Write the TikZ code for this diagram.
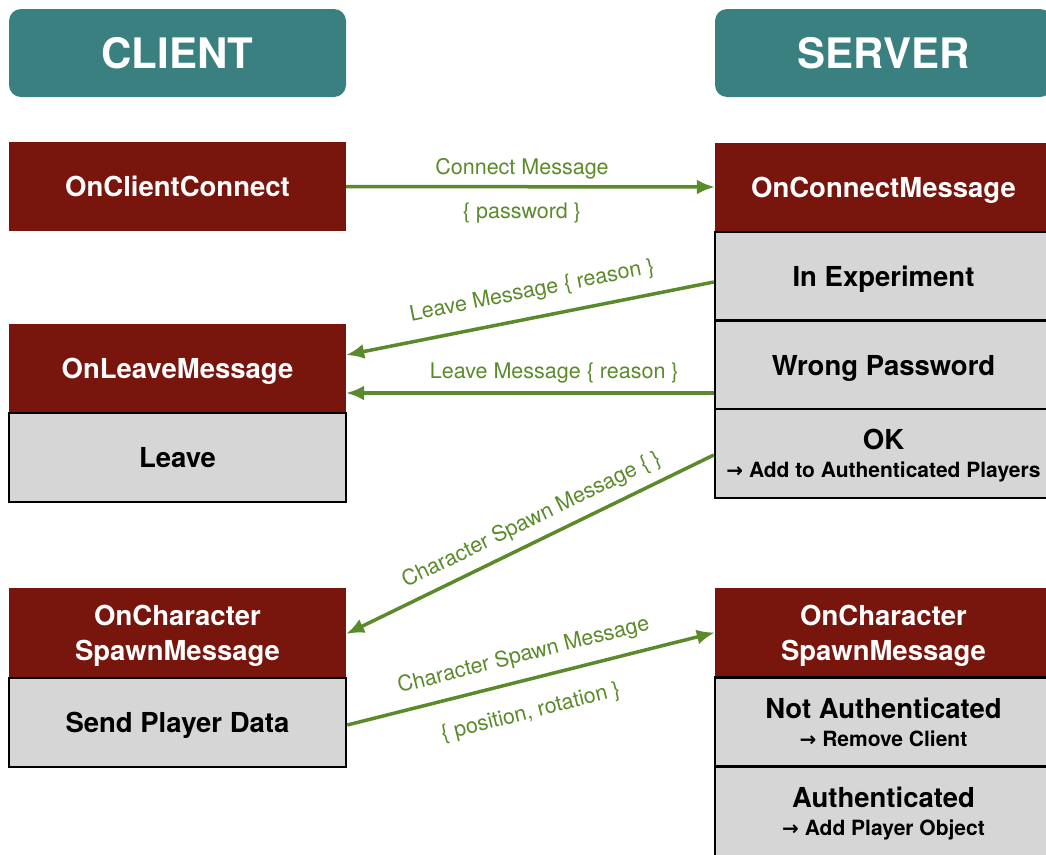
\documentclass[tikz,border=0pt]{standalone}
\usepackage{fontspec}
\setmainfont{TeX Gyre Heros}
\newfontfamily\arrowfont{DejaVu Sans}
\usetikzlibrary{arrows.meta,calc}
\definecolor{hdrteal}{HTML}{3A8080}
\definecolor{evtred}{HTML}{78160E}
\definecolor{casegray}{HTML}{D6D6D6}
\definecolor{msggreen}{HTML}{5A8A2A}
\newcommand{\thenarrow}{{\arrowfont\fontsize{20}{20}\selectfont →}}
\newcommand{\casenote}{\bfseries\fontsize{21}{28}\selectfont}
\begin{document}
\begin{tikzpicture}[x=1pt,y=-1pt,
  hdr/.style={fill=hdrteal, rounded corners=12pt, minimum width=337pt, minimum height=88pt,
    inner sep=0pt, text=white, font=\bfseries\fontsize{42}{46}\selectfont},
  evt/.style={fill=evtred, minimum width=337pt, minimum height=89pt, inner sep=0pt,
    text depth=0pt, text=white, align=center, font=\bfseries\fontsize{27.5}{35}\selectfont},
  cas/.style={fill=casegray, draw=black, line width=2.5pt, minimum width=337pt, minimum height=89pt,
    inner sep=0pt, text depth=0pt, align=center, font=\bfseries\fontsize{27.5}{28}\selectfont},
  msg/.style={draw=msggreen, line width=3.5pt, -{Latex[length=18pt,width=15pt]}},
  lbl/.style={text=msggreen, inner sep=3pt, font=\fontsize{21.5}{24}\selectfont}
]
\useasboundingbox (0,0) rectangle (1046,854);
\clip (0,0) rectangle (1046,854);

% column headers
\node[hdr] (client) at (177.5,53) {CLIENT};
\node[hdr] (server) at (883.5,53) {SERVER};

% message handlers
\node[evt] (occ)   at (177.5,186.5) {OnClientConnect};
\node[evt] (ocm)   at (883.5,187)   {OnConnectMessage};
\node[evt] (olm)   at (177.5,368.5) {OnLeaveMessage};
\node[evt] (ocsmc) at (177.5,632.5) {OnCharacter\\SpawnMessage};
\node[evt] (ocsms) at (883.5,632.5) {OnCharacter\\SpawnMessage};

% handler cases
\node[cas] (inexp)   at (883.5,276.5) {In Experiment};
\node[cas] (wrongpw) at (883.5,365)   {Wrong Password};
\node[cas] (okc)     at (883.5,453.5) {OK\\{\casenote \thenarrow\ Add to Authenticated Players}};
\node[cas] (leave)   at (177.5,457.5) {Leave};
\node[cas] (spd)     at (177.5,722.5) {Send Player Data};
\node[cas] (notauth) at (883.5,722)   {Not Authenticated\\{\casenote \thenarrow\ Remove Client}};
\node[cas] (auth)    at (883.5,811.5) {Authenticated\\{\casenote \thenarrow\ Add Player Object}};

% messages
\draw[msg] (occ.east) -- (ocm.west)
  node[lbl, pos=0.477, above=3pt] {Connect Message}
  node[lbl, pos=0.477, below=11pt] {\{ password \}};
\draw[msg] ([yshift=-5.5pt]inexp.west) -- ([yshift=13.5pt]olm.east)
  node[lbl, pos=0.48, sloped, above=11pt] {Leave Message \{ reason \}};
\draw[msg] ([yshift=-28pt]wrongpw.west) -- ([yshift=-24.5pt]olm.east)
  node[lbl, pos=0.434, above=5pt] {Leave Message \{ reason \}};
\draw[msg] ([yshift=-1.5pt]okc.west) -- ([yshift=-1.5pt]ocsmc.east)
  node[lbl, pos=0.47, sloped, above=6pt] {Character Spawn Message \{ \}};
\draw[msg] ([yshift=-2.5pt]spd.east) -- (ocsms.west)
  node[lbl, pos=0.496, sloped, above=9pt] {Character Spawn Message}
  node[lbl, pos=0.478, sloped, below=18pt] {\{ position, rotation \}};
\end{tikzpicture}
\end{document}
